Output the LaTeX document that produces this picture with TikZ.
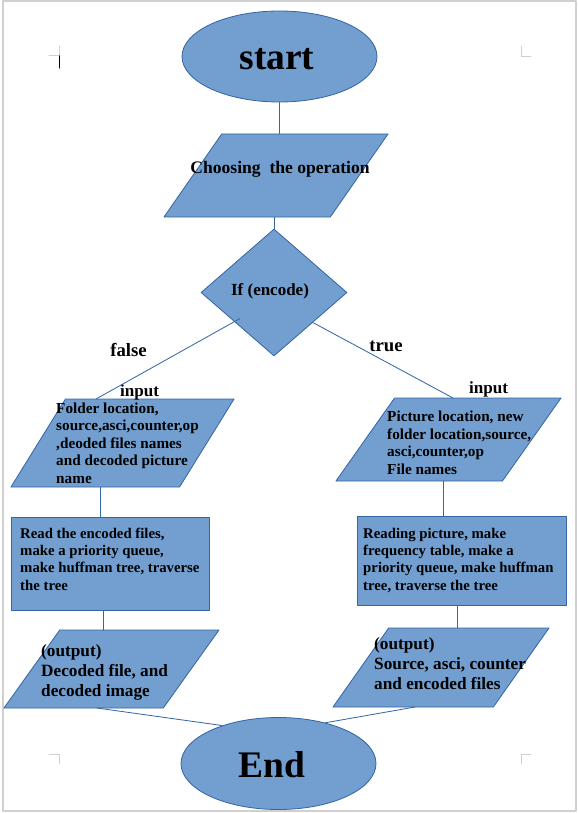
\documentclass[tikz,border=0pt]{standalone}
\usepackage{fontspec}
\setmainfont{Liberation Serif}
\usepackage{tikz}
\usetikzlibrary{shapes.geometric}
\usetikzlibrary{calc}
\definecolor{boxfill}{HTML}{729FCF}
\definecolor{boxline}{HTML}{3465A4}
\definecolor{pagegray}{HTML}{D0D0D0}

\begin{document}
\begin{tikzpicture}[x=0.03cm,y=-0.03cm,line cap=round,line join=round,
    flowbox/.style={draw=boxline,fill=boxfill,line width=0.7pt,inner sep=0pt},
    terminal/.style={flowbox,ellipse},
    decision/.style={flowbox,diamond},
    process/.style={flowbox,rectangle},
    io/.style={flowbox,trapezium,trapezium stretches=true,text width=1pt,text height=1pt,text depth=0pt},
    link/.style={draw=boxline,line width=0.7pt},
    txt/.style={inner sep=0pt,align=left,font=\bfseries},
    pagemark/.style={draw=pagegray,line width=0.8pt}]
\useasboundingbox (0,0) rectangle (577,813);
% page edge and corner marks
\draw[pagemark,line width=1.2pt] (3,1) rectangle (576,811);
\draw[pagemark] (49,55) -- (59,55) -- (59,46);
\draw[pagemark] (521,46) -- (521,56) -- (531,56);
\draw[pagemark] (49,754) -- (59,754) -- (59,764);
\draw[pagemark] (531,754) -- (521,754) -- (521,764);
\draw[line width=0.9pt] (59.3,56) -- (59.3,68);

% shapes
\node[terminal,minimum width=5.85cm,minimum height=2.73cm] (start) at (279.5,56.5) {};
\node[io,trapezium left angle=62,trapezium right angle=118,minimum width=6.72cm,minimum height=2.49cm] (choose) at (276,175.5) {};
\node[decision,minimum width=4.38cm,minimum height=3.81cm] (dia) at (274,292.5) {};
\node[io,trapezium left angle=64.5,trapezium right angle=115.5,minimum width=6.69cm,minimum height=2.64cm] (in1) at (122.5,443) {};
\node[io,trapezium left angle=61.5,trapezium right angle=118.5,minimum width=6.75cm,minimum height=2.49cm] (in2) at (448.5,439.5) {};
\node[process,minimum width=5.94cm,minimum height=2.79cm] (read1) at (110,563.5) {};
\node[process,minimum width=6.27cm,minimum height=2.67cm] (read2) at (461.5,560.5) {};
\node[io,trapezium left angle=61.7,trapezium right angle=118.3,minimum width=6.45cm,minimum height=2.34cm] (out1) at (111.5,669) {};
\node[io,trapezium left angle=62,trapezium right angle=118,minimum width=6.48cm,minimum height=2.37cm] (out2) at (441,667.5) {};
\node[terminal,minimum width=5.85cm,minimum height=2.76cm] (end) at (278.5,763.5) {};

% texts (multi-line ones sit on the baseline of their last line)
\node[txt,font=\bfseries\fontsize{32}{38}\selectfont,anchor=base] (starttxt) at (277,69) {start};
\node[txt,font=\bfseries\fontsize{15}{17}\selectfont,anchor=base] (choosetxt) at (280,173) {Choosing~ the operation};
\node[txt,font=\bfseries\fontsize{14.5}{17}\selectfont,anchor=base] (iftxt) at (270,295) {If (encode)};
\node[txt,font=\bfseries\fontsize{16}{18}\selectfont,anchor=base] (falsetxt) at (128.5,356) {false};
\node[txt,font=\bfseries\fontsize{16}{18}\selectfont,anchor=base] (truetxt) at (386,351) {true};
\node[txt,font=\bfseries\fontsize{14.6}{17}\selectfont,anchor=base] (in1lbl) at (139.5,396) {input};
\node[txt,font=\bfseries\fontsize{14.6}{17}\selectfont,anchor=base] (in2lbl) at (488.5,393) {input};
\node[txt,font=\bfseries\fontsize{13}{14.9}\selectfont,anchor=base west] (in1txt) at (56,483)
  {Folder location,\\source,asci,counter,op\\,deoded files names\\and decoded picture\\name};
\node[txt,font=\bfseries\fontsize{13}{14.8}\selectfont,anchor=base west] (in2txt) at (387,474)
  {Picture location, new\\folder location,source,\\asci,counter,op\\File names};
\node[txt,font=\bfseries\fontsize{12.6}{14.7}\selectfont,anchor=base west] (read1txt) at (20,590)
  {Read the encoded files,\\make a priority queue,\\make huffman tree, traverse\\the tree};
\node[txt,font=\bfseries\fontsize{12.6}{14.7}\selectfont,anchor=base west] (read2txt) at (363,590)
  {Reading picture, make\\frequency table, make a\\priority queue, make huffman\\tree, traverse the tree};
\node[txt,font=\bfseries\fontsize{14.7}{16.8}\selectfont,anchor=base west] (out1txt) at (41,696)
  {(output)\\Decoded file, and\\decoded image};
\node[txt,font=\bfseries\fontsize{14.7}{16.8}\selectfont,anchor=base west] (out2txt) at (374,689)
  {(output)\\Source, asci, counter\\and encoded files};
\node[txt,font=\bfseries\fontsize{32}{38}\selectfont,anchor=base] (endtxt) at (271.5,777) {End};

% connectors
\coordinate (in1t) at ([shift={(-26.5,-44)}]in1.center);
\coordinate (in1b) at ([shift={(-22.5,44)}]in1.center);
\coordinate (in2t) at ([shift={(4.5,-41.5)}]in2.center);
\coordinate (in2b) at ([shift={(-5.5,41.5)}]in2.center);
\coordinate (out1t) at ([shift={(-8.5,-39)}]out1.center);
\coordinate (out1b) at ([shift={(-14.5,39)}]out1.center);
\coordinate (out2t) at ([shift={(16,-39.5)}]out2.center);
\coordinate (out2b) at ([shift={(-26,39.5)}]out2.center);
\draw[link] (start.south) -- (start.south |- choose.north);
\draw[link] (dia.north |- choose.south) -- (dia.north);
\draw[link] ([shift={(-34,26)}]dia.center) -- (in1t);
\draw[link] ($(dia.east)!.47!(dia.south)$) -- (in2t);
\draw[link] (in1b) -- (in1b |- read1.north);
\draw[link] (in2b) -- (in2b |- read2.north);
\draw[link] (out1t |- read1.south) -- (out1t);
\draw[link] (out2t |- read2.south) -- (out2t);
\draw[link] (out1b) -- (end.146);
\draw[link] (out2b) -- (end.41);
\end{tikzpicture}
\end{document}
